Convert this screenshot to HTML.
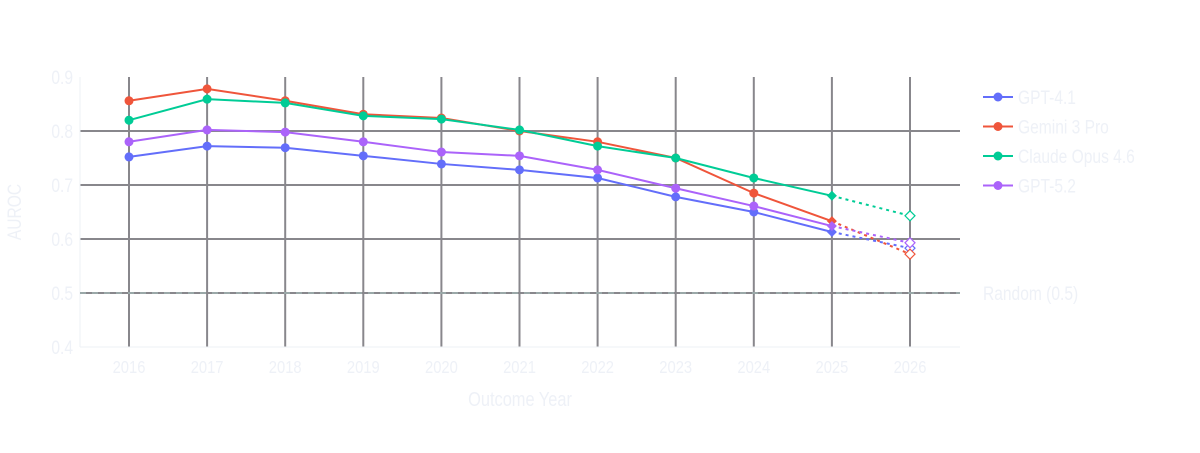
<!DOCTYPE html>
<html><head><meta charset="utf-8"><style>
body{margin:0;background:#fff;}
svg text{font-family:"Liberation Sans Narrow","Liberation Sans",sans-serif;fill:#eef1f7;}
</style></head><body>
<svg id="c" width="1200" height="448"></svg>
<script>
const years=[2016,2017,2018,2019,2020,2021,2022,2023,2024,2025];
const projYear=2026;
const seriesNames=["GPT-4.1","Gemini 3 Pro","Claude Opus 4.6","GPT-5.2"];
const gpt41=[0.752,0.772,0.769,0.754,0.739,0.728,0.713,0.678,0.650,0.613];
const gemini=[0.856,0.878,0.856,0.831,0.824,0.800,0.780,0.750,0.685,0.633];
const claude=[0.820,0.859,0.852,0.828,0.822,0.802,0.772,0.750,0.713,0.680];
const gpt52=[0.780,0.802,0.798,0.780,0.761,0.754,0.728,0.694,0.661,0.624];
const proj=[0.583,0.572,0.643,0.593];
const yTicks=[0.4,0.5,0.6,0.7,0.8,0.9];
const xTicks=[2016,2017,2018,2019,2020,2021,2022,2023,2024,2025,2026];
const colors=["#636efa","#EF553B","#00cc96","#ab63fa"];
const NS="http://www.w3.org/2000/svg",svg=document.getElementById('c');
const X=v=>129+(v-2016)*78.1, Y=v=>347-(v-0.4)*540;
function el(t,a,name){const e=document.createElementNS(NS,t);for(const k in a)e.setAttribute(k,a[k]);


svg.appendChild(e);return e;}
function txt(x,y,s,size,anchor,name,rot){
 const e=el('text',{x:0,y:0,'font-size':size,'text-anchor':anchor,transform:`translate(${x},${y})${rot?' rotate(-90)':''} scale(0.82,1)`},name);
 e.textContent=s;return e;}
yTicks.forEach(v=>{
 if(v>0.4&&v<0.9){el('line',{x1:80,x2:960,y1:Y(v),y2:Y(v),stroke:'#88878c','stroke-width':2},'y-gridline');}
 txt(73,Y(v)+7,v.toFixed(1),19,'end','y-tick-label');
});
xTicks.forEach(v=>{
 el('line',{x1:X(v),x2:X(v),y1:77,y2:347,stroke:'#88878c','stroke-width':2},'x-gridline');
 txt(X(v),373,String(v),18,'middle','x-tick-label');
});
el('line',{x1:80,x2:80,y1:77,y2:347,stroke:'#eef1f5','stroke-width':1},'y-axis-line');
el('line',{x1:80,x2:960,y1:347,y2:347,stroke:'#eef1f5','stroke-width':1},'x-axis-line');
el('line',{x1:80,x2:960,y1:Y(0.5),y2:Y(0.5),stroke:'#9aa8a8','stroke-width':2,'stroke-dasharray':'6,6'},'random-baseline');
txt(983,Y(0.5)+7,'Random (0.5)',19,'start','random-label');
txt(520,406,'Outcome Year',20,'middle','x-axis-title');
txt(21,212,'AUROC',19,'middle','y-axis-title',true);
[gpt41,gemini,claude,gpt52].forEach((s,i)=>{
 const c=colors[i],last=s[s.length-1];
 el('line',{x1:X(2025),y1:Y(last),x2:X(projYear),y2:Y(proj[i]),stroke:c,'stroke-width':2,'stroke-dasharray':'3,4'},'projection-line');
 el('path',{d:`M${X(projYear)},${Y(proj[i])-5}l5,5l-5,5l-5,-5z`,fill:'#fff',stroke:c,'stroke-width':1.2},'projection-marker');
 el('polyline',{points:s.map((v,j)=>X(years[j])+','+Y(v)).join(' '),fill:'none',stroke:c,'stroke-width':2},'series-line');
 s.forEach((v,j)=>{ if(j===s.length-1) el('path',{d:`M${X(years[j])},${Y(v)-5}l5,5l-5,5l-5,-5z`,fill:c},'series-marker');
   else el('circle',{cx:X(years[j]),cy:Y(v),r:4.5,fill:c},'series-marker');});
 const ly=97+i*29.5;
 el('line',{x1:983,x2:1013,y1:ly,y2:ly,stroke:c,'stroke-width':2},'legend-line');
 el('circle',{cx:998,cy:ly,r:4.5,fill:c},'legend-marker');
 txt(1018,ly+7,seriesNames[i],19,'start','legend-entry');
});
</script></body></html>
